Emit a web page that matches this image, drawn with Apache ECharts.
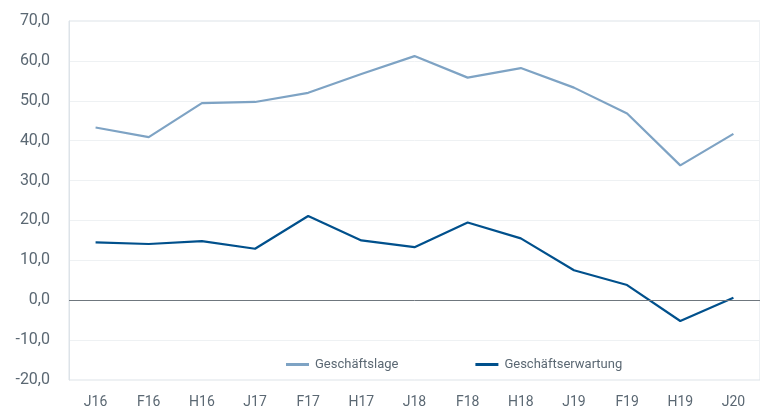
<!DOCTYPE html>
<html>
<head>
<meta charset="utf-8">
<script src="https://cdn.jsdelivr.net/npm/echarts@6/dist/echarts.min.js"></script>
<style>
  html, body { margin: 0; padding: 0; background: #fff; }
  #chart { width: 760px; height: 411px; }
</style>
</head>
<body>
<div id="chart"></div>
<script>
// Halbjahre: J = Jahresbeginn, F = Frühjahr, H = Herbst
var categories = ['J16', 'F16', 'H16', 'J17', 'F17', 'H17', 'J18', 'F18', 'H18', 'J19', 'F19', 'H19', 'J20'];
var lageValues = [43.3, 40.9, 49.4, 49.7, 52.0, 56.7, 61.2, 55.8, 58.2, 53.3, 46.8, 33.8, 41.7];
var erwartungValues = [14.5, 14.1, 14.8, 12.9, 21.1, 15.0, 13.3, 19.5, 15.5, 7.5, 3.8, -5.2, 0.6];
var yTicks = { min: -20, max: 70, step: 10 };

var textColor = '#5b6873';
var fontName = 'Roboto';

var myChart = echarts.init(document.getElementById('chart'));

var option = {
    backgroundColor: '#fff',
    animation: false,
    grid: {
        left: 69,
        right: -10,
        top: 21,
        bottom: 31,
        show: true,
        borderColor: '#dde3e8',
        borderWidth: 1
    },
    legend: {
        left: 281,
        top: 353,
        itemWidth: 23,
        itemHeight: 3,
        itemGap: 77,
        icon: 'rect',
        textStyle: { color: textColor, fontFamily: fontName, fontSize: 13, padding: [0, 0, 0, 1] },
        data: ['Geschäftslage', 'Geschäftserwartung']
    },
    xAxis: {
        type: 'category',
        data: categories,
        boundaryGap: true,
        axisLine: { show: false },
        axisTick: { show: false },
        axisLabel: { color: textColor, fontFamily: fontName, fontSize: 14, margin: 15 }
    },
    yAxis: {
        type: 'value',
        min: yTicks.min,
        max: yTicks.max,
        interval: yTicks.step,
        axisLine: { show: true, lineStyle: { color: '#dde3e8' } },
        axisTick: { show: false },
        splitLine: { lineStyle: { color: '#eef1f3' } },
        axisLabel: {
            color: textColor,
            fontFamily: fontName,
            fontSize: 16,
            margin: 19,
            formatter: function (v) { return v.toFixed(1).replace('.', ','); }
        }
    },
    series: [
        {
            name: 'Geschäftslage',
            type: 'line',
            data: lageValues,
            symbol: 'none',
            color: '#7ea3c4',
            lineStyle: { width: 2.2, color: '#7ea3c4' },
            markLine: {
                silent: true,
                symbol: 'none',
                label: { show: false },
                lineStyle: { color: '#6f777e', width: 1, type: 'solid' },
                data: [{ yAxis: 0 }]
            }
        },
        {
            name: 'Geschäftserwartung',
            type: 'line',
            data: erwartungValues,
            symbol: 'none',
            color: '#00508c',
            lineStyle: { width: 2.2, color: '#00508c' }
        }
    ]
};

myChart.setOption(option);
</script>
</body>
</html>
